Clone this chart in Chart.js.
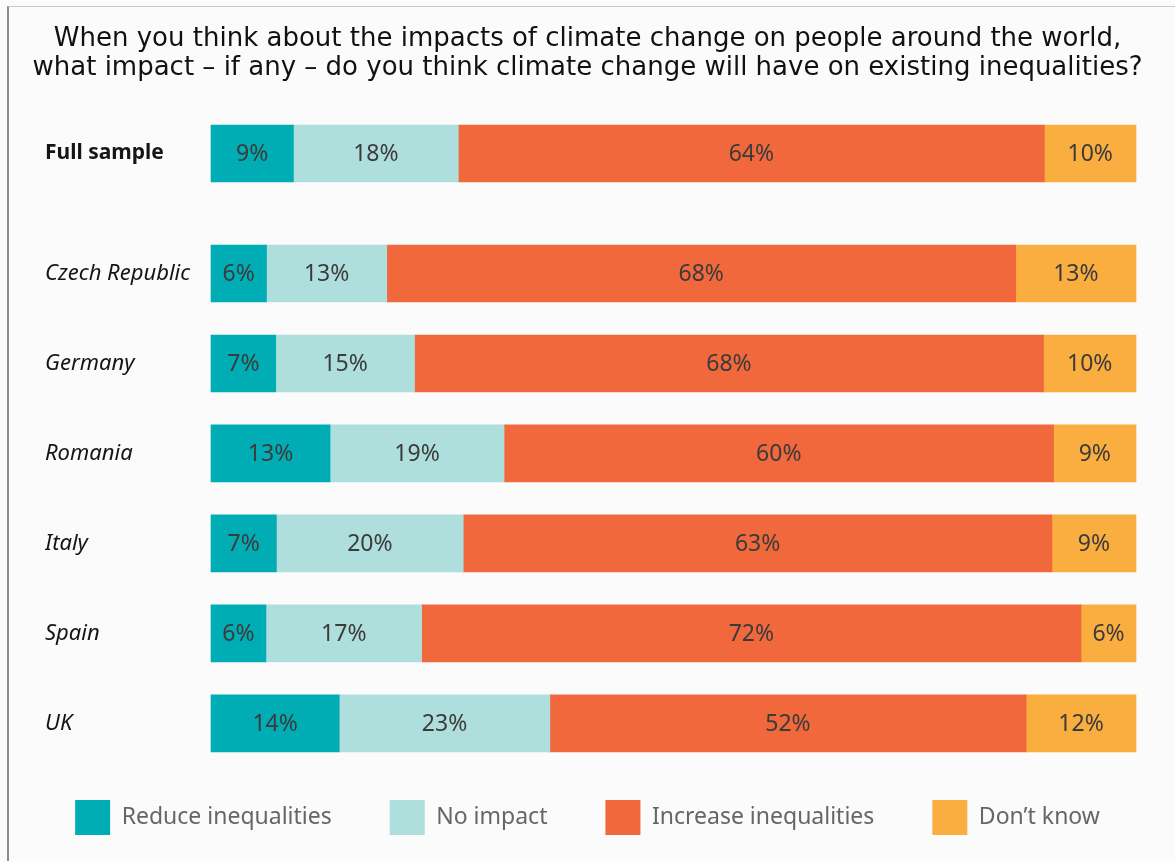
<!DOCTYPE html>
<html>
<head>
<meta charset="utf-8">
<script src="https://cdn.jsdelivr.net/npm/chart.js@4/dist/chart.umd.min.js"></script>
<style>
  html, body { margin: 0; padding: 0; background: #fbfbfb; }
  .frame {
    position: absolute; left: 7px; top: 6px; right: 0; bottom: 0;
    border-top: 1px solid #c9c9c9; border-left: 2px solid #8c8c8c;
  }
  .wrap { position: absolute; left: 0; top: 0; width: 1175px; height: 861px; }
</style>
</head>
<body>
<div class="frame"></div>
<div class="wrap"><canvas id="myChart"></canvas></div>
<script>
const categories = ['Full sample', 'Czech Republic', 'Germany', 'Romania', 'Italy', 'Spain', 'UK'];
const seriesNames = ['Reduce inequalities', 'No impact', 'Increase inequalities', "Don\u2019t know"];

const reduceVals = [9, 6, 7, 13, 7, 6, 14];
const noImpactVals = [18, 13, 15, 19, 20, 17, 23];
const increaseVals = [64, 68, 68, 60, 63, 72, 52];
const dontKnowVals = [10, 13, 10, 9, 9, 6, 12];

const colors = ['#00adb5', '#afdfdc', '#f0683b', '#fbae40'];

// full sample sits apart from the countries
const groupGap = 1 / 3;
const rowPos = categories.map((c, i) => i === 0 ? 0 : i + groupGap);

const allVals = [reduceVals, noImpactVals, increaseVals, dontKnowVals];
const rowSums = categories.map((c, i) => allVals.reduce((s, arr) => s + arr[i], 0));

const datasets = allVals.map((vals, k) => ({
    label: seriesNames[k],
    data: vals.map((v, i) => ({ y: rowPos[i], x: v / rowSums[i] * 100, shown: v })),
    backgroundColor: colors[k],
    borderWidth: 0,
    barThickness: 57,
    grouped: false,
    clip: false,
}));

const labelPlugin = {
    id: 'barLabels',
    afterDatasetsDraw(chart) {
        const c = chart.ctx;
        c.save();
        c.font = '23px "Noto Sans"';
        c.fillStyle = '#3b3b3b';
        c.textAlign = 'center';
        c.textBaseline = 'middle';
        chart.data.datasets.forEach((ds, k) => {
            const meta = chart.getDatasetMeta(k);
            meta.data.forEach((bar, i) => {
                const p = bar.getProps(['x', 'base', 'y'], true);
                c.fillText(ds.data[i].shown + '%', (p.x + p.base) / 2, p.y + 1);
            });
        });
        c.restore();
    }
};

// empty side axes, only to hold space
const spacer = (w) => ({
    type: 'linear',
    display: true,
    ticks: { display: false },
    grid: { display: false },
    border: { display: false },
    afterFit: (scale) => { scale.width = w; }
});

const ctx = document.getElementById('myChart');

const myChart = new Chart(ctx, {
    type: 'bar',
    data: { datasets: datasets },
    plugins: [labelPlugin],
    options: {
        indexAxis: 'y',
        responsive: true,
        maintainAspectRatio: false,
        animation: false,
        layout: { padding: { left: 10, right: 10, top: 0, bottom: 16 } },
        scales: {
            x: {
                type: 'linear',
                stacked: true,
                min: 0,
                max: 100,
                display: false,
            },
            y: {
                type: 'linear',
                reverse: true,
                offset: false,
                min: -0.5,
                max: 6.54,
                weight: 0,
                grid: { display: false },
                border: { display: false },
                afterBuildTicks: (scale) => {
                    scale.ticks = rowPos.map(v => ({ value: v }));
                },
                afterFit: (scale) => {
                    scale.width = 166;
                },
                ticks: {
                    autoSkip: false,
                    crossAlign: 'far',
                    color: '#151515',
                    callback: (value, index) => categories[index],
                    font: (c) => c.index === 0
                        ? { family: '"Noto Sans"', size: 21, weight: 'bold' }
                        : { family: '"Noto Sans"', size: 22, style: 'italic' },
                }
            },
            padLeft: Object.assign(spacer(35), { position: 'left', weight: 1 }),
            padRight: Object.assign(spacer(29), { position: 'right', weight: 1 }),
        },
        plugins: {
            title: {
                display: true,
                text: [
                    'When you think about the impacts of climate change on people around the world,',
                    'what impact \u2013 if any \u2013 do you think climate change will have on existing inequalities?'
                ],
                color: '#111111',
                font: { family: '"DejaVu Sans"', size: 26, weight: 'normal', lineHeight: 1.135 },
                padding: { top: 24, bottom: 25.5 },
            },
            legend: {
                position: 'bottom',
                labels: {
                    boxWidth: 35,
                    boxHeight: 35,
                    padding: 58,
                    color: '#666666',
                    font: { family: '"Noto Sans"', size: 23 },
                }
            },
            tooltip: { enabled: false }
        }
    }
});
</script>
</body>
</html>
